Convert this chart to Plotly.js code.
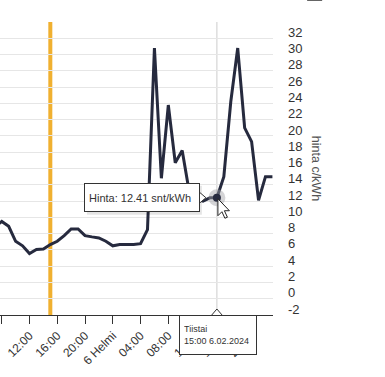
<!DOCTYPE html>
<html>
<head>
<meta charset="utf-8">
<script src="https://cdn.plot.ly/plotly-3.0.1.min.js"></script>
<style>html,body{margin:0;padding:0;background:#fff;}#chart{width:385px;height:377px;}</style>
</head>
<body>
<div id="chart"></div>
<script>
// Hourly spot price (snt/kWh)
const times = [
  '2024-02-05 07:00','2024-02-05 08:00','2024-02-05 09:00','2024-02-05 10:00','2024-02-05 11:00',
  '2024-02-05 12:00','2024-02-05 13:00','2024-02-05 14:00','2024-02-05 15:00','2024-02-05 16:00',
  '2024-02-05 17:00','2024-02-05 18:00','2024-02-05 19:00','2024-02-05 20:00','2024-02-05 21:00',
  '2024-02-05 22:00','2024-02-05 23:00','2024-02-06 00:00','2024-02-06 01:00','2024-02-06 02:00',
  '2024-02-06 03:00','2024-02-06 04:00','2024-02-06 05:00','2024-02-06 06:00','2024-02-06 07:00',
  '2024-02-06 08:00','2024-02-06 09:00','2024-02-06 10:00','2024-02-06 11:00','2024-02-06 12:00',
  '2024-02-06 13:00','2024-02-06 14:00','2024-02-06 15:00','2024-02-06 16:00','2024-02-06 17:00',
  '2024-02-06 18:00','2024-02-06 19:00','2024-02-06 20:00','2024-02-06 21:00','2024-02-06 22:00',
  '2024-02-06 23:00'
];
const prices = [
  8.8, 9.5, 8.9, 7.06, 6.5,
  5.55, 6.04, 6.1, 6.65, 7.06,
  7.75, 8.58, 8.58, 7.75, 7.6,
  7.47, 7.06, 6.5, 6.65, 6.65,
  6.65, 6.77, 8.5, 30.8, 14.8,
  23.8, 16.7, 18.2, 13.2, 12.3,
  12.0, 12.4, 12.41, 15.0, 24.2,
  30.8, 21.0, 19.3, 12.1, 15.0,
  15.0
];
const xTickVals = ['2024-02-05 08:00','2024-02-05 12:00','2024-02-05 16:00','2024-02-05 20:00',
  '2024-02-06 00:00','2024-02-06 04:00','2024-02-06 08:00','2024-02-06 12:00','2024-02-06 16:00','2024-02-06 20:00'];
const xTickText = ['08:00','12:00','16:00','20:00','6 Helmi','04:00','08:00','12:00','16:00','20:00'];
const yTickVals = [-2,0,2,4,6,8,10,12,14,16,18,20,22,24,26,28,30,32,34];
const yTickText = ['-2','0','2','4','6','8','10','12','14','16','18','20','22','24','26','28','30','32',''];
const nowTime = '2024-02-05 15:00';
const hoverTime = '2024-02-06 15:00';
const hoverDay = 'Tiistai';
const hoverLabel = '15:00 6.02.2024';
const seriesName = 'Hinta';
const unit = 'snt/kWh';
const yTitle = 'hinta c/kWh';

const hi = times.indexOf(hoverTime);
const font = 'Liberation Sans, Arial, sans-serif';
const lineColor = '#262a3e';
const shadow = 'rgba(0,0,0,0.10)';

const traces = [
  {x: times, y: prices, type: 'scatter', mode: 'lines',
   line: {color: lineColor, width: 3}, hoverinfo: 'skip'},
  {x: [times[hi]], y: [prices[hi]], type: 'scatter', mode: 'markers', cliponaxis: false,
   marker: {size: 17, color: 'rgba(160,160,165,0.45)'}, hoverinfo: 'skip'},
  {x: [times[hi]], y: [prices[hi]], type: 'scatter', mode: 'markers', cliponaxis: false,
   marker: {size: 8, color: lineColor}, hoverinfo: 'skip'}
];

function px(anchorX, anchorY, extra) {
  return Object.assign({xref: 'x', yref: 'y', xsizemode: 'pixel', ysizemode: 'pixel',
    xanchor: anchorX, yanchor: anchorY}, extra);
}

const layout = {
  width: 385, height: 377,
  margin: {l: 0, r: 112, t: 22, b: 62},
  paper_bgcolor: '#fff', plot_bgcolor: '#fff',
  showlegend: false,
  font: {family: font, color: '#333'},
  xaxis: {
    type: 'date', range: ['2024-02-05 07:45', '2024-02-06 23:05'],
    tickmode: 'array', tickvals: xTickVals, ticktext: xTickText, tickangle: -45,
    ticks: 'outside', ticklen: 8, tickwidth: 1, tickcolor: '#333',
    showline: true, linecolor: '#333', linewidth: 1,
    showgrid: false, zeroline: false,
    tickfont: {size: 12, color: '#333', family: font}
  },
  yaxis: {
    side: 'right', range: [-2, 34],
    tickmode: 'array', tickvals: yTickVals, ticktext: yTickText,
    ticks: '', ticklabelstandoff: 14, ticklabelshift: -6,
    showgrid: true, gridcolor: '#e6e6e6', gridwidth: 1,
    zeroline: false, showline: false,
    tickfont: {size: 13, color: '#333', family: font}
  },
  shapes: [
    {type: 'line', xref: 'x', yref: 'paper', x0: nowTime, x1: nowTime, y0: 0, y1: 1,
     line: {color: '#f0b030', width: 4}, layer: 'below'},
    {type: 'line', xref: 'x', yref: 'paper', x0: hoverTime, x1: hoverTime, y0: 0, y1: 1,
     line: {color: '#cccccc', width: 1}, layer: 'below'},
    // tooltip shadows
    px(hoverTime, prices[hi], {type: 'rect', x0: -130, x1: -15, y0: -17, y1: 12,
      fillcolor: shadow, line: {width: 0}, layer: 'above'}),
    px(hoverTime, -2, {type: 'rect', x0: -36, x1: 42, y0: -42, y1: -2,
      fillcolor: shadow, line: {width: 0}, layer: 'above'}),
    // pointer of the price tooltip
    px(hoverTime, prices[hi], {type: 'path', path: 'M-18,6 L-11,0 L-18,-6 Z',
      fillcolor: '#fff', line: {color: '#333', width: 1}, layer: 'above'}),
    // pointer of the date tooltip
    px(hoverTime, -2, {type: 'path', path: 'M-6,-1 L0,6 L6,-1 Z',
      fillcolor: '#fff', line: {color: '#333', width: 1}, layer: 'above'}),
    // mouse cursor
    px(hoverTime, prices[hi], {type: 'path',
      path: 'M1,-1 L1,-18 L5,-14 L8,-20.5 L10.5,-19.5 L7.5,-13 L12.5,-13 Z',
      fillcolor: '#fff', line: {color: '#222', width: 1}, layer: 'above'}),
    {type: 'rect', xref: 'paper', yref: 'paper', x0: 1.125, x1: 1.18, y0: 1.072, y1: 1.09,
     fillcolor: '#555', line: {width: 0}}
  ],
  annotations: [
    {xref: 'x', yref: 'y', x: hoverTime, y: prices[hi], xanchor: 'right', yanchor: 'middle',
     xshift: -17, showarrow: false, align: 'left',
     text: seriesName + ': ' + prices[hi].toFixed(2) + ' ' + unit,
     font: {size: 11, color: '#333', family: font},
     bgcolor: '#fff', bordercolor: '#333', borderwidth: 1, borderpad: 4, width: 106, height: 19},
    {xref: 'x', yref: 'y', x: hoverTime, y: -2, xanchor: 'center', yanchor: 'top',
     xshift: 1, showarrow: false, align: 'left',
     text: hoverDay + '<br>' + hoverLabel,
     font: {size: 9, color: '#333', family: font},
     bgcolor: '#fff', bordercolor: '#333', borderwidth: 1, borderpad: 4, width: 68, height: 30},
    {xref: 'paper', yref: 'paper', x: 1.16, y: 0.5, xanchor: 'center', yanchor: 'middle',
     showarrow: false, textangle: 90, text: yTitle,
     font: {size: 12.5, color: '#555', family: font}}
  ]
};

Plotly.newPlot('chart', traces, layout, {displayModeBar: false, staticPlot: true});
</script>
</body>
</html>
